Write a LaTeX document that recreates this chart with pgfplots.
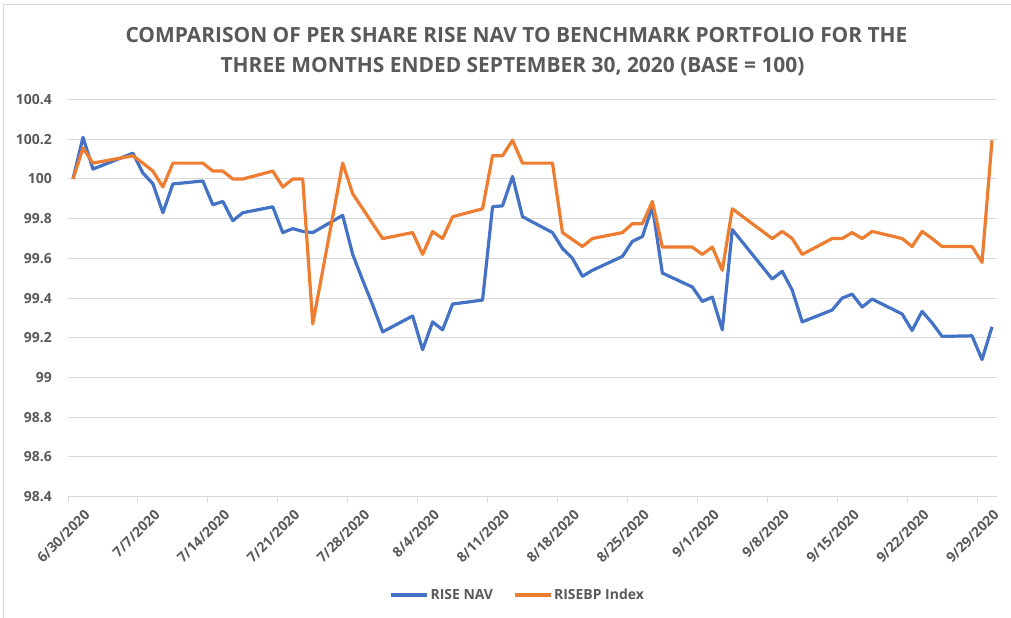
\documentclass[border=0pt]{standalone}
\usepackage{pgfplots}
\usepackage{pgfplotstable}
\pgfplotsset{compat=1.18}
\usepackage{fontspec}
\setmainfont{Open Sans}
\definecolor{navblue}{HTML}{4472C4}
\definecolor{bporange}{HTML}{ED7D31}
\definecolor{txtgray}{HTML}{595959}
\definecolor{gridgray}{HTML}{D9D9D9}

% x = business day offset from 6/30/2020 plus 0.5 (Excel date axis centre)
\pgfplotstableread{
x nav bp
0.5 100.00 100.00
1.5 100.21 100.156
2.5 100.05 100.08
6.5 100.13 100.117
7.5 100.03 100.08
8.5 99.976 100.04
9.5 99.83 99.96
10.5 99.975 100.08
13.5 99.99 100.08
14.5 99.87 100.04
15.5 99.887 100.04
16.5 99.79 100.00
17.5 99.83 100.00
20.5 99.86 100.04
21.5 99.73 99.96
22.5 99.75 100.00
23.5 99.736 100.00
24.5 99.73 99.27
27.5 99.817 100.08
28.5 99.62 99.926
29.5 99.49 99.85
30.5 99.365 99.775
31.5 99.23 99.70
34.5 99.31 99.73
35.5 99.14 99.62
36.5 99.28 99.735
37.5 99.24 99.70
38.5 99.37 99.81
41.5 99.39 99.85
42.5 99.86 100.117
43.5 99.865 100.117
44.5 100.013 100.195
45.5 99.81 100.08
48.5 99.73 100.08
49.5 99.65 99.73
50.5 99.60 99.695
51.5 99.51 99.66
52.5 99.54 99.70
55.5 99.61 99.73
56.5 99.686 99.775
57.5 99.71 99.775
58.5 99.862 99.887
59.5 99.526 99.657
62.5 99.456 99.657
63.5 99.383 99.62
64.5 99.405 99.657
65.5 99.24 99.54
66.5 99.745 99.85
70.5 99.496 99.70
71.5 99.535 99.736
72.5 99.44 99.70
73.5 99.28 99.62
76.5 99.34 99.70
77.5 99.40 99.70
78.5 99.42 99.73
79.5 99.355 99.70
80.5 99.395 99.736
83.5 99.32 99.70
84.5 99.237 99.66
85.5 99.333 99.736
86.5 99.275 99.70
87.5 99.207 99.66
90.5 99.21 99.66
91.5 99.09 99.58
92.5 99.255 100.195
}\datatable

\begin{document}
\begin{tikzpicture}[x=1bp,y=1bp]
\path[use as bounding box] (0bp,0bp) rectangle (1011bp,618bp);
\draw[gridgray, line width=1bp] (3bp,0bp) -- (3bp,613bp) -- (1011bp,613bp);
\node[font=\fontsize{21}{25}\selectfont\bfseries, text=txtgray, anchor=base, inner sep=0pt] at (516.5bp,575.7bp) {COMPARISON OF PER SHARE RISE NAV TO BENCHMARK PORTFOLIO FOR THE};
\node[font=\fontsize{21}{25}\selectfont\bfseries, text=txtgray, anchor=base, inner sep=0pt] at (512.5bp,545.7bp) {THREE MONTHS ENDED SEPTEMBER 30, 2020 (BASE = 100)};
\begin{axis}[
  at={(68bp,121.4bp)}, anchor=south west,
  scale only axis, width=929bp, height=397bp,
  xmin=0, xmax=93, ymin=98.4, ymax=100.4,
  xtick={0,7,14,21,28,35,42,49,56,63,70,77,84,91},
  xticklabels={6/30/2020,7/7/2020,7/14/2020,7/21/2020,7/28/2020,8/4/2020,8/11/2020,8/18/2020,8/25/2020,9/1/2020,9/8/2020,9/15/2020,9/22/2020,9/29/2020},
  ytick={98.4,98.6,98.8,99,99.2,99.4,99.6,99.8,100,100.2,100.4},
  yticklabels={98.4,98.6,98.8,99,99.2,99.4,99.6,99.8,100,100.2,100.4},
  ymajorgrids, grid style={gridgray, line width=1bp},
  axis line style={draw=none},
  xtick pos=bottom, ytick pos=left,
  ytick style={draw=none},
  xtick style={gridgray, line width=1bp},
  tick align=outside, major tick length=5bp,
  yticklabel style={font=\fontsize{14}{17}\selectfont\bfseries, text=txtgray, inner sep=0pt, xshift=-11bp},
  xticklabel style={font=\fontsize{14}{17}\selectfont\bfseries, text=txtgray, rotate=45, anchor=north east, inner sep=1bp, yshift=-15bp, xshift=7bp},
  legend style={at={(0.484,-0.248)}, anchor=center, draw=none, fill=none,
    legend columns=2, font=\fontsize{14}{17}\selectfont\bfseries, text=txtgray,
    /tikz/every even column/.append style={column sep=18bp}},
  legend image code/.code={\draw[#1] (0bp,0bp) -- (36bp,0bp);},
]
\addplot[navblue, line width=3.2bp, line join=round] table[x=x, y=nav] {\datatable};
\addlegendentry{RISE NAV}
\addplot[bporange, line width=3.2bp, line join=round] table[x=x, y=bp] {\datatable};
\addlegendentry{RISEBP Index}
\end{axis}
\end{tikzpicture}
\end{document}
